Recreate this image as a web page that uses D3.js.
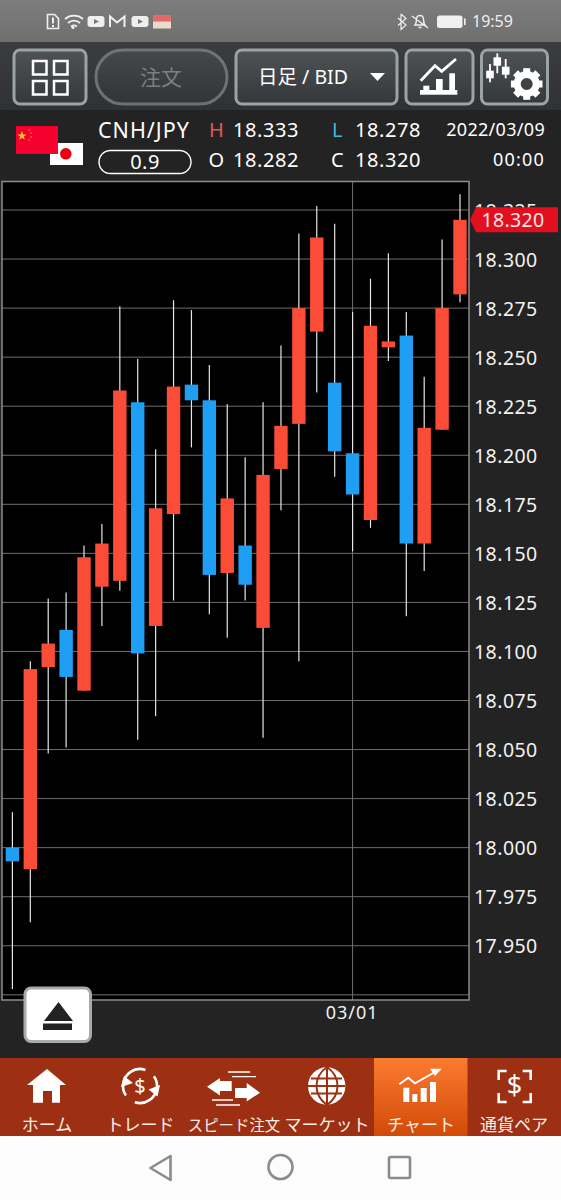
<!DOCTYPE html>
<html><head><meta charset="utf-8">
<script src="https://cdn.jsdelivr.net/npm/d3@7"></script>
<style>html,body{margin:0;padding:0;background:#232323}svg{display:block}
text{font-family:"Noto Sans","Noto Sans CJK JP",sans-serif}</style></head>
<body><div id="c"></div>
<script>
const categories=["02/02","02/03","02/04","02/07","02/08","02/09","02/10","02/11","02/14","02/15","02/16","02/17","02/18","02/21","02/22","02/23","02/24","02/25","02/28","03/01","03/02","03/03","03/04","03/07","03/08","03/09"];
const opens =[18.000,17.989,18.092,18.111,18.080,18.133,18.136,18.227,18.113,18.170,18.236,18.228,18.140,18.154,18.112,18.193,18.216,18.263,18.237,18.201,18.167,18.255,18.261,18.155,18.213,18.282];
const closes=[17.993,18.091,18.104,18.087,18.148,18.155,18.233,18.099,18.173,18.235,18.228,18.139,18.178,18.134,18.190,18.215,18.275,18.311,18.202,18.180,18.266,18.258,18.155,18.214,18.275,18.320];
const highs =[18.018,18.095,18.127,18.130,18.154,18.165,18.276,18.249,18.203,18.279,18.274,18.246,18.226,18.199,18.227,18.256,18.313,18.327,18.318,18.273,18.290,18.303,18.273,18.240,18.310,18.333];
const lows  =[17.928,17.962,18.048,18.051,18.080,18.113,18.131,18.055,18.067,18.126,18.204,18.119,18.107,18.126,18.056,18.172,18.095,18.232,18.189,18.151,18.163,18.248,18.118,18.141,18.213,18.278];
const priceTicks=[18.325,18.300,18.275,18.250,18.225,18.200,18.175,18.150,18.125,18.100,18.075,18.050,18.025,18.000,17.975,17.950,17.925];
const labelledPriceTicks=priceTicks.filter(v=>v>17.93);
const dateTicks=["03/01"];
const quote={pair:"CNH/JPY",spread:"0.9",H:"18.333",L:"18.278",O:"18.282",C:"18.320",date:"2022/03/09",time:"00:00",last:18.320};
const tabs=["ホーム","トレード","スピード注文","マーケット","チャート","通貨ペア"];

const W=561,H=1200;
const svg=d3.select("#c").append("svg").attr("width",W).attr("height",H).attr("viewBox",`0 0 ${W} ${H}`);
const defs=svg.append("defs");
function grad(id,stops){const g=defs.append("linearGradient").attr("id",id).attr("x1",0).attr("y1",0).attr("x2",0).attr("y2",1);
 stops.forEach(([o,c])=>g.append("stop").attr("offset",o).attr("stop-color",c));}
grad("gBtn",[[0,"#505356"],[1,"#35373a"]]);
grad("gBar",[[0,"#3b3d40"],[1,"#2f3133"]]);
grad("gStatus",[[0,"#7d7d7d"],[1,"#6f6f6f"]]);
grad("gTab",[[0,"#fb7b30"],[1,"#d24a08"]]);
const R=(x,y,w,h,f,p=svg)=>p.append("rect").attr("x",x).attr("y",y).attr("width",w).attr("height",h).attr("fill",f);
const T=(x,y,s,size,fill,anchor="start",ls=0)=>svg.append("text").attr("x",x).attr("y",y).text(s).attr("font-size",size).attr("fill",fill).attr("text-anchor",anchor).attr("letter-spacing",ls);
const P=(d,fill="none",stroke="none",sw=0)=>svg.append("path").attr("d",d).attr("fill",fill).attr("stroke",stroke).attr("stroke-width",sw);

// backgrounds
R(0,0,W,H,"#232323");
R(0,0,W,42,"url(#gStatus)");
R(0,42,W,68,"url(#gBar)");
R(0,110,W,72,"#232323");

// status bar
const sc="#f0f0f0";
P("M47.5 14.5h7l4 4v10h-11z","none",sc,1.6);
R(52,17.5,2,6,sc);R(52,25,2,2,sc);
P("M65 19a14 14 0 0 1 18 0 M68 23a9 9 0 0 1 12 0 M71 26.5a5 5 0 0 1 6 0",'none',sc,1.7);
svg.append("circle").attr("cx",73).attr("cy",27.5).attr("r",1.6).attr("fill",sc);
[[87.5,16],[131.5,16]].forEach(([x,y])=>{svg.append("rect").attr("x",x).attr("y",y).attr("width",17).attr("height",11).attr("rx",3).attr("fill","#eee");
 P(`M${x+6.5} ${y+3}l5 2.5l-5 2.5z`,"#777");});
P("M110 27V16.5l7 6l7.5-6V27","none",sc,2);
R(153,15,18,6.5,"#e36a68");R(153,21.5,18,7,"#eadccc");
P("M401 14l5 4.5l-8 7 M398 18l8 7l-5 4.5v-15.5","none",sc,1.2);
P("M415 25c2-2 1-6 2-8c1-2 5-2 6 0c1 2 0 6 2 8z M412 16l16 12 M418.5 27.5h3","none",sc,1.4);
svg.append("rect").attr("x",437).attr("y",15.5).attr("width",25.5).attr("height",12.5).attr("rx",2.5).attr("fill",sc);
R(464,18.5,1.6,6.5,sc);
T(472,27,"19:59",16,"#eeeeee");

// toolbar buttons
function btn(x,w,o=1,rx=6){return svg.append("rect").attr("x",x).attr("y",50).attr("width",w).attr("height",54).attr("rx",rx)
 .attr("fill","url(#gBtn)").attr("stroke","#9ca3a3").attr("stroke-width",3).attr("opacity",o);}
btn(14,72);
btn(96,131,.55,27);
btn(236,161);
btn(406,67);
btn(481.5,66);
[[33,61],[54,61],[33,81],[54,81]].forEach(([x,y])=>svg.append("rect").attr("x",x).attr("y",y).attr("width",13.5).attr("height",13.5).attr("fill","none").attr("stroke","#fff").attr("stroke-width",2.5));
T(161,85,"注文",21,"#7c7e80","middle");
T(258,84,"日足 / BID",19.5,"#ffffff");
P("M370 73h15l-7.5 8z","#fff");
P("M420.7 80.7L435 65.7L441.7 71.3L456 59","none","#fff",2.8);
R(420,90,37.3,4.7,"#fff");R(423.3,85.7,6,5,"#fff");R(436,79,6.7,12,"#fff");R(449.3,73.3,5.7,18,"#fff");
// candles + gear icon
[[490,64,82.3,70.7,78.3],[497.3,53.3,73.3,57.3,65.7],[505.7,59,78.3,66.7,74.7]].forEach(([x,a,b,c,d])=>{R(x-.9,a,1.8,b-a,"#fff");R(x-3.8,c,7.6,d-c,"#fff");});
svg.append("circle").attr("cx",526.7).attr("cy",84).attr("r",9.5).attr("fill","none").attr("stroke","#fff").attr("stroke-width",7);
d3.range(8).forEach(i=>R(523.2,68.2,7,6,"#fff").attr("transform",`rotate(${i*45} 526.7 84)`));

// quote header
R(50,143,33,22,"#ffffff");
svg.append("circle").attr("cx",65.8).attr("cy",153.8).attr("r",5.8).attr("fill","#e60012");
R(16,126,42,28,"#f4002e");
P("M22 131l1.2 3.4h3.4l-2.8 2 1 3.4l-2.8-2l-2.8 2l1-3.4l-2.8-2h3.4z","#ffd21e");
[[29,130],[31,133],[31,137],[29,140]].forEach(([a,b])=>svg.append("circle").attr("cx",a).attr("cy",b).attr("r",.7).attr("fill","#ffb01e"));
T(98,138,quote.pair,21.5,"#ffffff","start",1);
svg.append("rect").attr("x",99).attr("y",150.5).attr("width",92).attr("height",23).attr("rx",11.5).attr("fill","none").attr("stroke","#fff").attr("stroke-width",1.4);
T(145,169,quote.spread,20,"#ffffff","middle",.5);
T(209,137,"H",20,"#e05a55");
T(208.5,167,"O",20,"#ffffff");
T(332,137,"L",20,"#3cb8e8");
T(331,167,"C",20,"#ffffff");
T(233,137,quote.H,20,"#ffffff","start",.6);T(233,167,quote.O,20,"#ffffff","start",.6);
T(355,137,quote.L,20,"#ffffff","start",.6);T(355,167,quote.C,20,"#ffffff","start",.6);
T(545,136,quote.date,18,"#ffffff","end",.3);
T(545,166,quote.time,18,"#ffffff","end",1.2);

// chart
const frame={l:2,r:469,t:181.5,b:1000};
const x=d3.scaleLinear().domain([0,categories.length-1]).range([12.4,460]);
const y=d3.scaleLinear().domain([18.325,17.925]).range([210,994.8]);
R(frame.l,frame.t,frame.r-frame.l,frame.b-frame.t,"#000");
const grid=svg.append("g");
grid.selectAll("line.h").data(priceTicks).join("line").attr("class","h")
 .attr("x1",frame.l).attr("x2",frame.r).attr("y1",d=>y(d)).attr("y2",d=>y(d)).attr("stroke","#6e6e6e").attr("stroke-width",1);
grid.selectAll("line.v").data(dateTicks).join("line").attr("class","v")
 .attr("x1",d=>x(categories.indexOf(d))).attr("x2",d=>x(categories.indexOf(d))).attr("y1",frame.t).attr("y2",frame.b).attr("stroke","#6e6e6e").attr("stroke-width",1);
const data=categories.map((c,i)=>({c,i,o:opens[i],h:highs[i],l:lows[i],cl:closes[i]}));
const g=svg.append("g");
g.selectAll("line").data(data).join("line").attr("x1",d=>x(d.i)).attr("x2",d=>x(d.i)).attr("y1",d=>y(d.h)).attr("y2",d=>y(d.l)).attr("stroke","#e6e6e6").attr("stroke-width",1.2);
g.selectAll("rect").data(data).join("rect").attr("x",d=>x(d.i)-6.7).attr("width",13.4)
 .attr("y",d=>y(Math.max(d.o,d.cl))).attr("height",d=>Math.abs(y(d.o)-y(d.cl)))
 .attr("fill",d=>d.cl>=d.o?"#fb4c38":"#1f9ff3");
svg.append("rect").attr("x",frame.l).attr("y",frame.t).attr("width",frame.r-frame.l).attr("height",frame.b-frame.t).attr("fill","none").attr("stroke","#8c8c8c").attr("stroke-width",1.5);

// price axis labels
svg.append("g").selectAll("text").data(labelledPriceTicks).join("text").attr("x",474).attr("y",d=>y(d)+7.5).text(d=>d.toFixed(3))
 .attr("font-size",19.5).attr("fill","#f2f2f2").attr("letter-spacing",.45);
// last price tag
const ty=y(quote.last);
P(`M470 ${ty}L476 ${ty-12.5}H558V${ty+12.5}H476Z`,"#e2101f");
T(513,ty+7,quote.last.toFixed(3),19.5,"#f6e6e6","middle",.3);
// date axis labels
svg.append("g").selectAll("text").data(dateTicks).join("text").attr("x",d=>x(categories.indexOf(d))-.5).attr("y",1018.5).attr("text-anchor","middle").text(d=>d).attr("font-size",18).attr("letter-spacing",1).attr("fill","#f2f2f2");

// eject button
svg.append("rect").attr("x",25).attr("y",988).attr("width",65.5).attr("height",53.5).attr("rx",6).attr("fill","#fff").attr("stroke","#a5abab").attr("stroke-width",3);
P("M44 1021l14.5-19l14.5 19z","#222");R(43,1023.5,29,6.5,"#222");

// tab bar
R(0,1058,W,78,"#9d3012");
R(374,1058,93.5,78,"url(#gTab)");
const tw="#ffffff";
const cxs=[47,140.5,234,327,421,514];
tabs.forEach((t,i)=>T(cxs[i],1130.5,t,i==2?15.4:17,"#fbeee8","middle"));
P("M47 1069L66 1085H60V1102.7H52V1091H43V1102.7H33V1085H27Z",tw);
svg.append("circle").attr("cx",140).attr("cy",1086).attr("r",17).attr("fill","none").attr("stroke",tw).attr("stroke-width",2.6).attr("stroke-dasharray","42 11.4").attr("transform","rotate(-35 140 1086)");
P("M121 1087l3-11l9 7z M160 1085l-2.5 11.5l-9-7z",tw);
T(140,1093,"$",20,tw,"middle");
P("M207 1086.7L220 1078V1081H231.7V1091H220V1095.5Z",tw);
P("M260 1092.7L246.7 1083V1088H235V1098H246.7V1101.5Z",tw);
P("M228 1072h22 M232 1076.7h24 M212 1100h21 M216 1105h24",'none',tw,1.3);
svg.append("circle").attr("cx",326.7).attr("cy",1086).attr("r",18.7).attr("fill",tw);
P("M327 1067v38 M308 1086h37 M311 1078.5h31 M311 1093.5h31 M327 1067c-14 10-14 28 0 38 M327 1067c14 10 14 28 0 38","none","#9d3012",2);
P("M399.3 1084.3L408.3 1077.7L415 1083.3L434 1072.5","none",tw,2);
P("M430 1068.7H441.7L435 1076Z",tw);
const bottom=1102;
[[403.3,6,1087.7],[412.3,5,1094],[420.7,6,1088],[430,6,1082]].forEach(([a,w,t])=>R(a,t,w,bottom-t,tw));
P("M506.7 1071h-8v9 M522.7 1071h8v9 M498.7 1093v9h8 M530.7 1093v9h-8","none",tw,2.6);
T(514.5,1095,"$",27,tw,"middle");

// nav bar
R(0,1136,W,64,"#fcfcfc");
const nc="#8b8b8b";
P("M170.5 1156v24l-20-12z","none",nc,2.6).attr("stroke-linejoin","round");
svg.append("circle").attr("cx",280.5).attr("cy",1167).attr("r",12).attr("fill","none").attr("stroke",nc).attr("stroke-width",2.6);
svg.append("rect").attr("x",389).attr("y",1157).attr("width",21).attr("height",21).attr("rx",1.5).attr("fill","none").attr("stroke",nc).attr("stroke-width",2.6);
</script></body></html>
